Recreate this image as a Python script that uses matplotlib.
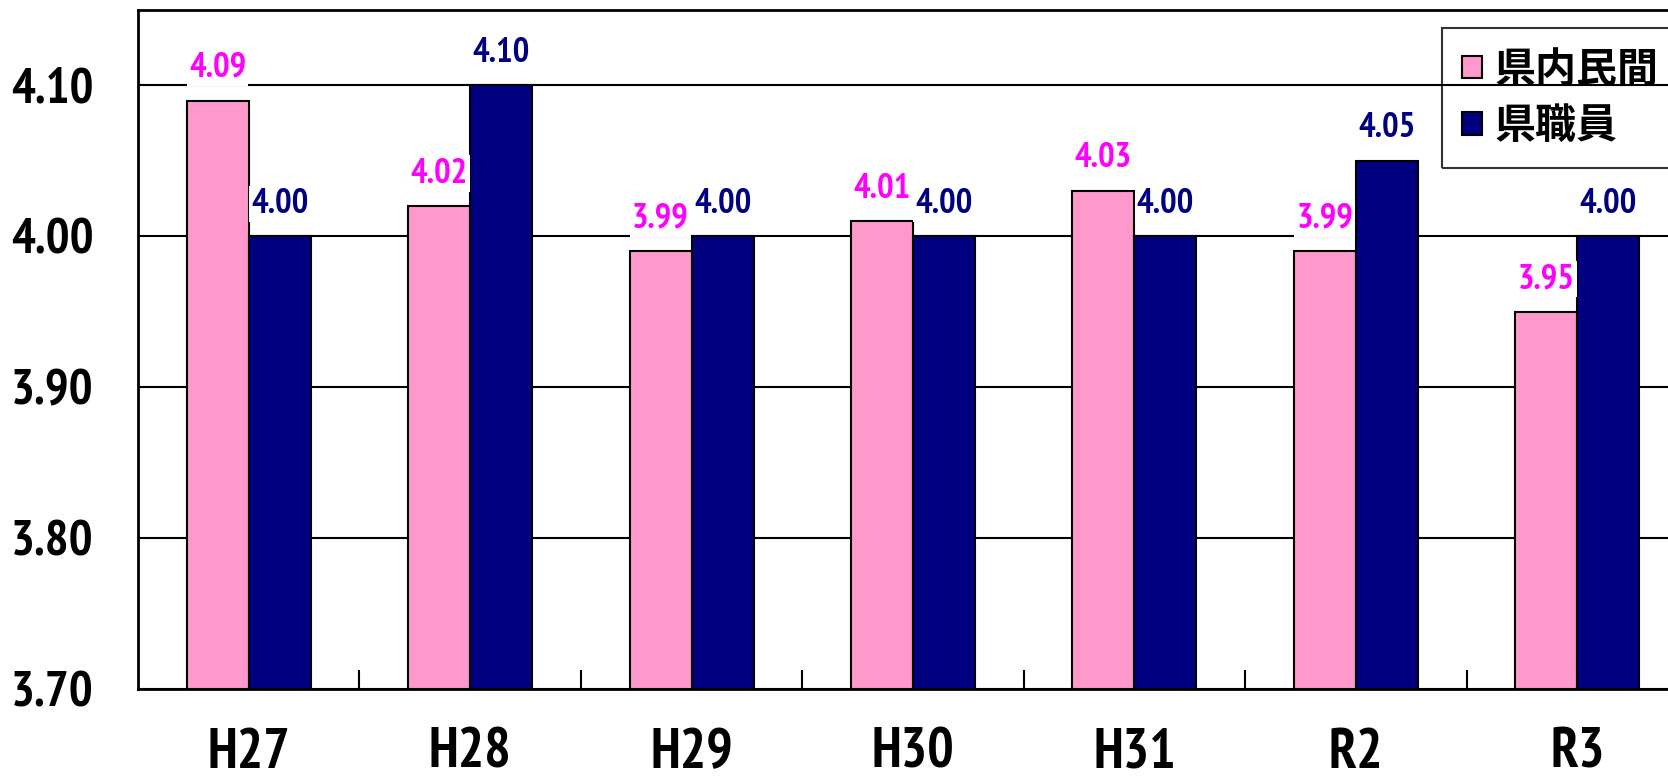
import matplotlib
matplotlib.use('Agg')
import matplotlib.pyplot as plt
from matplotlib import font_manager
from matplotlib.patches import Patch
import numpy as np

years = ['H27', 'H28', 'H29', 'H30', 'H31', 'R2', 'R3']
minkan = [4.09, 4.02, 3.99, 4.01, 4.03, 3.99, 3.95]
shokuin = [4.00, 4.10, 4.00, 4.00, 4.00, 4.05, 4.00]
series_names = ['県内民間', '県職員']

PINK = '#FF99CC'
NAVY = '#000080'
CJK = ['Noto Sans CJK JP', 'DejaVu Sans']


def narrow_font():
    # look for a condensed / narrow bold latin face among the installed fonts
    best = None
    for f in font_manager.fontManager.ttflist:
        name = (f.name + ' ' + f.fname).lower()
        narrow = ('narrow' in name or 'condensed' in name
                  or f.stretch in ('condensed', 'semi-condensed', 'extra-condensed'))
        if not narrow or 'cjk' in name or 'mono' in name:
            continue
        bold = f.weight in ('bold', 700, 'heavy') or 'bold' in name
        if 'oblique' in name or 'italic' in name:
            continue
        score = (bold, 'narrow' in name or 'extra' in str(f.stretch))
        if best is None or score > best[0]:
            best = (score, f.fname)
    return best[1] if best else None


NARROW_FILE = narrow_font()


def nfont(size):
    if NARROW_FILE:
        return font_manager.FontProperties(fname=NARROW_FILE, size=size)
    return font_manager.FontProperties(family='DejaVu Sans', weight='bold',
                                       size=size * 0.8)


fig = plt.figure(figsize=(16.68, 7.77), dpi=100)
# axes runs past the right edge of the picture, like the source image
ax = fig.add_axes([138 / 1668, 88 / 777, 1550 / 1668, 679 / 777])

x = np.arange(len(years))
w = 0.28
ax.bar(x - w / 2, np.array(minkan) - 3.7, w, bottom=3.7, color=PINK,
       edgecolor='black', linewidth=1.5, zorder=3)
ax.bar(x + w / 2, np.array(shokuin) - 3.7, w, bottom=3.7, color=NAVY,
       edgecolor='black', linewidth=1.5, zorder=3)

for xi, v in zip(x, minkan):
    ax.annotate(f'{v:.2f}', (xi - w / 2, v), xytext=(0, 17), textcoords='offset points',
                ha='center', va='baseline', color='#FF00FF', fontproperties=nfont(25),
                zorder=5, bbox=dict(facecolor='white', edgecolor='none', pad=1.5))
for xi, v in zip(x, shokuin):
    ax.annotate(f'{v:.2f}', (xi + w / 2, v), xytext=(0, 17), textcoords='offset points',
                ha='center', va='baseline', color=NAVY, fontproperties=nfont(25),
                zorder=5, bbox=dict(facecolor='white', edgecolor='none', pad=1.5))

yt = [3.70, 3.80, 3.90, 4.00, 4.10]
ax.set_xlim(-0.5, len(years) - 0.5)
ax.set_ylim(3.70, 4.15)
ax.set_yticks(yt)
ax.set_yticklabels([f'{t:.2f}' for t in yt], fontproperties=nfont(36))
ax.tick_params(axis='y', length=0, pad=32)
ax.grid(axis='y', color='black', linewidth=1.5, zorder=1)

# boundary ticks between categories, labels at the centres
ax.set_xticks(x[:-1] + 0.5)
ax.set_xticklabels([])
ax.tick_params(axis='x', which='major', direction='in', length=14, width=1.5)
ax.set_xticks(x, minor=True)
ax.set_xticklabels(years, minor=True, fontproperties=nfont(40))
ax.tick_params(axis='x', which='minor', length=0, pad=28)

for s in ax.spines.values():
    s.set_linewidth(2)

handles = [Patch(facecolor=PINK, edgecolor='black', linewidth=1.5),
           Patch(facecolor=NAVY, edgecolor='black', linewidth=1.5)]
top = 1 - 28 / 777
leg = fig.legend(handles, series_names, loc='upper left', mode='expand',
                 bbox_to_anchor=(1442 / 1668, 0.5, 0.2, top - 0.5), borderaxespad=0,
                 prop={'family': CJK, 'weight': 'bold', 'size': 29.5},
                 handlelength=0.48, handleheight=0.48, handletextpad=0.3,
                 labelspacing=0.36, borderpad=0.5, fancybox=False,
                 facecolor='none', edgecolor='black')
leg.get_frame().set_linewidth(1.5)

fig.savefig('out.png', dpi=100)
